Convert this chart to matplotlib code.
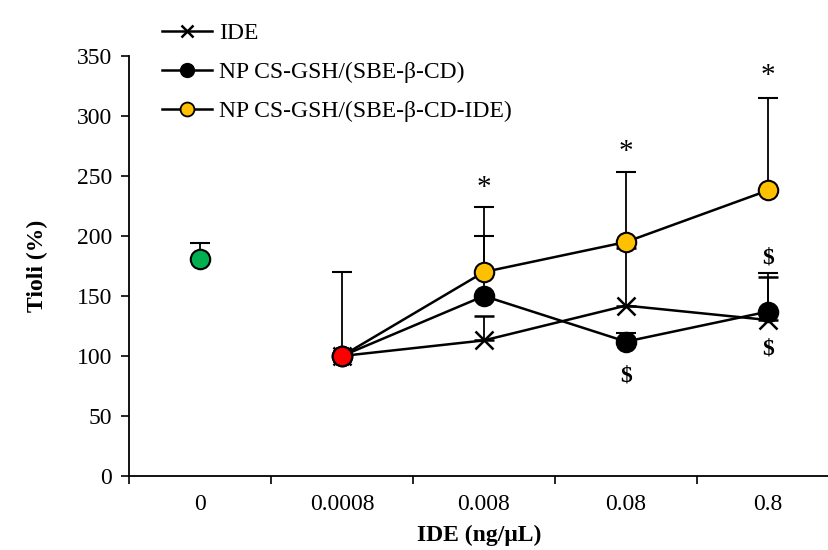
import numpy as np
import matplotlib
matplotlib.use("Agg")
import matplotlib.pyplot as plt
from matplotlib.lines import Line2D

plt.rcParams['font.family'] = ['Liberation Serif', 'DejaVu Serif']

doses = ['0', '0.0008', '0.008', '0.08', '0.8']

# control (0) and baseline (0.0008)
ctrl_mean, ctrl_err = 181, 13
base_mean, base_err = 100, 70

# treated series over 0.0008 .. 0.8
ide_mean = [100, 113, 142, 130]
ide_err = [0, 20, 48, 36]
np_mean = [100, 150, 112, 137]
np_err = [0, 50, 7, 32]
npi_mean = [100, 170, 195, 238]
npi_err = [0, 54, 58, 77]

star_y = [240, 270, 333]        # '*' above NP CS-GSH/(SBE-β-CD-IDE)
dollar_pts = [(3, 83), (4, 182), (4, 106)]

fs = 17

fig = plt.figure(figsize=(8.29, 5.5), dpi=100)
ax = fig.add_axes([129 / 829, 74 / 550, 700 / 829, 420 / 550])

x = np.arange(1, 5)
err_kw = dict(ecolor='black', elinewidth=1.3, capsize=7, capthick=1.3)

ax.errorbar(x, ide_mean, yerr=[np.zeros(4), ide_err], color='black', lw=1.8,
            marker='x', ms=13, mew=1.8, zorder=3, **err_kw)
ax.errorbar(x, np_mean, yerr=[np.zeros(4), np_err], color='black', lw=1.8,
            marker='o', ms=14, mfc='black', mec='black', mew=1.5,
            zorder=4, **err_kw)
ax.errorbar(x, npi_mean, yerr=[np.zeros(4), npi_err], color='black', lw=1.8,
            marker='o', ms=14, mfc='#FFC000', mec='black', mew=1.5,
            zorder=5, **err_kw)

ax.errorbar([0], [ctrl_mean], yerr=[[0], [ctrl_err]], fmt='o', ms=14,
            mfc='#00B050', mec='black', mew=1.5, zorder=6, **err_kw)
ax.errorbar([1], [base_mean], yerr=[[0], [base_err]], fmt='o', ms=14,
            mfc='#FF0000', mec='black', mew=1.5, zorder=7, **err_kw)

for xi, yi in zip(x[1:], star_y):
    ax.text(xi, yi, '*', ha='center', va='center', fontsize=21)
for xi, yi in dollar_pts:
    ax.text(xi, yi, '$', ha='center', va='center', fontsize=fs,
            fontweight='bold')

ax.set_xlim(-0.5, 4.43)
ax.set_ylim(0, 350)
ax.set_yticks(np.arange(0, 351, 50))
ax.set_xticks(range(5))
ax.set_xticklabels(doses)
ax.set_xticks(np.arange(-0.5, 4.5, 1), minor=True)
ax.tick_params(axis='x', which='major', length=0, pad=13, labelsize=fs)
ax.tick_params(axis='x', which='minor', length=6, width=1.2, direction='out')
ax.tick_params(axis='y', length=6, width=1.2, labelsize=fs, pad=6)
for s in ['top', 'right']:
    ax.spines[s].set_visible(False)
for s in ['left', 'bottom']:
    ax.spines[s].set_linewidth(1.3)

ax.set_ylabel('Tioli (%)', fontsize=fs, fontweight='bold', labelpad=21)
ax.set_xlabel('IDE (ng/μL)', fontsize=fs, fontweight='bold', labelpad=7)

handles = [
    Line2D([], [], color='black', lw=1.8, marker='x', ms=9, mew=1.8),
    Line2D([], [], color='black', lw=1.8, marker='o', ms=10, mfc='black', mec='black'),
    Line2D([], [], color='black', lw=1.8, marker='o', ms=10, mfc='#FFC000', mec='black', mew=1.3),
]
labels = ['IDE', 'NP CS-GSH/(SBE-β-CD)', 'NP CS-GSH/(SBE-β-CD-IDE)']
fig.legend(handles, labels, loc='upper left', bbox_to_anchor=(153 / 829, 1 - 13 / 550),
           frameon=False, fontsize=fs, handlelength=2.1, labelspacing=0.75,
           handletextpad=0.3, borderaxespad=0)

fig.savefig('out.png', dpi=100)
